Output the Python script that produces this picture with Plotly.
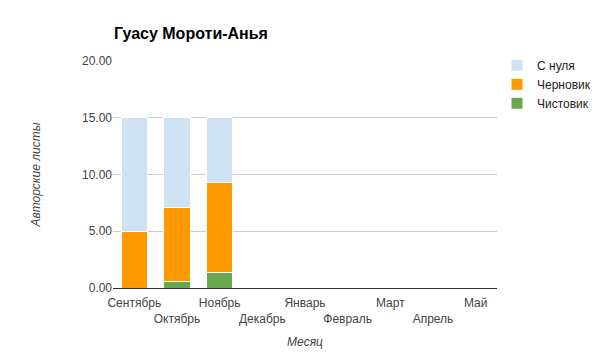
import plotly.graph_objects as go

months = ["Сентябрь", "Октябрь", "Ноябрь", "Декабрь", "Январь",
          "Февраль", "Март", "Апрель", "Май"]
chistovik = [0.0, 0.6, 1.4, 0, 0, 0, 0, 0, 0]
chernovik = [5.0, 6.5, 7.9, 0, 0, 0, 0, 0, 0]
s_nulya = [10.0, 7.9, 5.7, 0, 0, 0, 0, 0, 0]
y_ticks = [0, 5, 10, 15, 20]

series = [
    ("Чистовик", chistovik, "#6aa84f"),
    ("Черновик", chernovik, "#ff9900"),
    ("С нуля", s_nulya, "#cfe2f3"),
]

tick_text = [m if i % 2 == 0 else "<br>" + m for i, m in enumerate(months)]

# page body has an 8px default margin; compensate
W, H = 597, 347
font = "Arial, Liberation Sans, sans-serif"
fig = go.Figure()
for name, vals, color in series:
    fig.add_trace(go.Bar(
        x=months, y=vals, name=name,
        marker=dict(color=color, line=dict(color="white", width=1)),
    ))

fig.update_layout(
    barmode="stack",
    bargap=0.38,
    width=W, height=H,
    margin=dict(l=105, r=108, t=53, b=67, autoexpand=False),
    paper_bgcolor="white", plot_bgcolor="white",
    font=dict(family=font, size=12, color="#444444"),
    title=dict(text="<b>Гуасу Мороти-Анья</b>", x=106 / W, xanchor="left",
               y=1 - 25 / H, yanchor="middle",
               font=dict(family=font, size=16, color="#000000")),
    legend=dict(x=1.0, y=1.045, xanchor="left", yanchor="top",
                traceorder="reversed", font=dict(size=12, color="#222222"),
                tracegroupgap=0),
    xaxis=dict(
        tickmode="array", tickvals=months, ticktext=tick_text,
        tickangle=0, ticklabelstandoff=4,
        showline=True, linecolor="#333333", linewidth=1,
        ticks="", tickfont=dict(size=12, color="#444444"),
        title=dict(text="<i>Месяц</i>", standoff=12,
                   font=dict(size=12, color="#444444")),
    ),
    yaxis=dict(
        range=[0, 20], tickvals=y_ticks, tickformat=".2f",
        showgrid=True, gridcolor="#cccccc", gridwidth=1,
        zeroline=False, ticks="", ticklen=0,
        tickfont=dict(size=12, color="#444444"),
        title=dict(text="<i>Авторские листы</i>", standoff=38,
                   font=dict(size=12, color="#444444")),
    ),
)

fig.write_html("out.html")
